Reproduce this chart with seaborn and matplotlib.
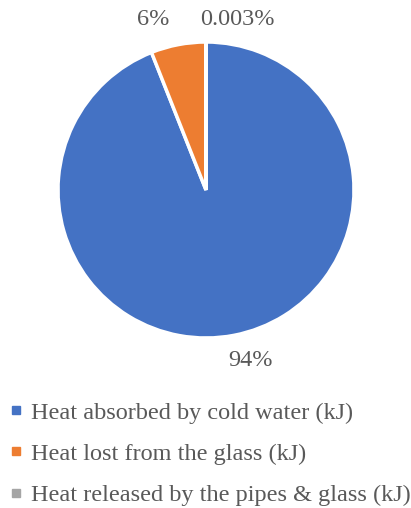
import matplotlib
matplotlib.use("Agg")
import matplotlib.pyplot as plt
from matplotlib.lines import Line2D
import seaborn as sns

# Heat balance shares (%)
categories = [
    "Heat absorbed by cold water (kJ)",
    "Heat lost from the glass (kJ)",
    "Heat released by the pipes & glass (kJ)",
]
shares = [94.0, 6.0, 0.003]
colors = ["#4472C4", "#ED7D31", "#A5A5A5"]

sns.set_theme(style="white")
plt.rcParams["font.family"] = ["Liberation Serif", "DejaVu Serif"]
text_color = "#595959"
fs = 17.5

W, H = 411, 508
fig = plt.figure(figsize=(W / 100, H / 100), dpi=100)

# pie area: centre (206, 190) px, radius 148 px
cx, cy, r = 206, 190, 148
ax = fig.add_axes([(cx - r) / W, (H - cy - r) / H, 2 * r / W, 2 * r / H])

labels = [f"{v:g}%" for v in shares]
wedges, texts = ax.pie(
    shares,
    colors=colors,
    startangle=90,
    counterclock=False,
    radius=1,
    labels=labels,
    labeldistance=1.17,
    wedgeprops=dict(edgecolor="white", linewidth=2.5),
    textprops=dict(color=text_color, fontsize=fs),
)
ax.set_xlim(-1, 1)
ax.set_ylim(-1, 1)
ax.set_aspect("equal")
ax.axis("off")
for t in texts:
    t.set_ha("center")
    t.set_va("center")

# nudge the small-slice labels apart at the top
texts[0].set_position((0.30, -1.15))
texts[1].set_position((-0.36, 1.155))
texts[2].set_position((0.21, 1.155))

handles = [
    Line2D([], [], marker="s", linestyle="none", markersize=5.5,
           markerfacecolor=c, markeredgecolor=c)
    for c in colors
]
leg = fig.legend(
    handles, categories,
    loc="upper left",
    bbox_to_anchor=(1 / W, 1 - 392 / H),
    frameon=False,
    fontsize=fs,
    handlelength=0.45,
    handletextpad=0.4,
    labelspacing=0.79,
    labelcolor=text_color,
    borderaxespad=0,
)

fig.savefig("out.png", dpi=100, facecolor="white")
